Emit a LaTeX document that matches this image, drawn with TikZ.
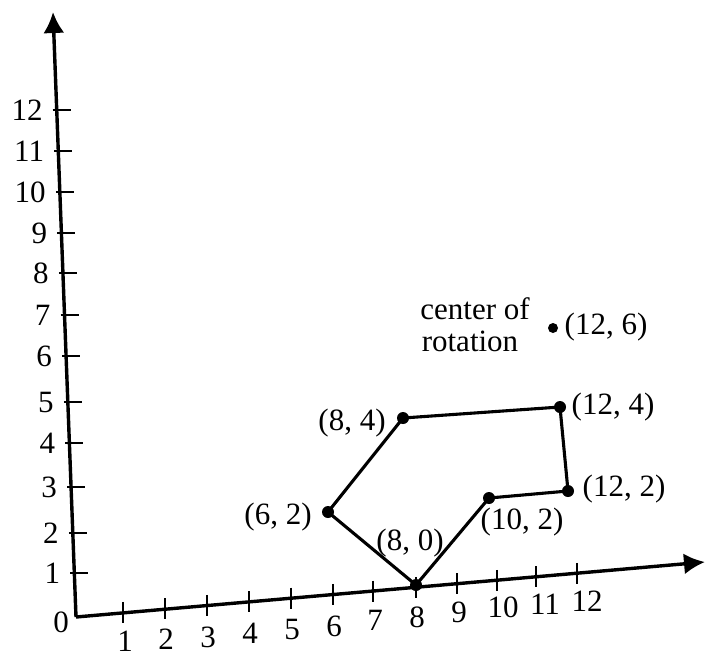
\documentclass[tikz,border=0pt]{standalone}
\usepackage{fontspec}
\setmainfont{Liberation Serif}
\usetikzlibrary{arrows.meta}
\tikzset{
  axisline/.style={line width=3.4pt,-{Latex[length=21pt,width=21pt]}},
  edge/.style={line width=3.1pt,line cap=round},
  tickmark/.style={line width=1.6pt},
  dot/.style={circle,fill=black,inner sep=0pt,minimum size=12pt},
  smalldot/.style={circle,fill=black,inner sep=0pt,minimum size=10pt},
  lab/.style={inner sep=0pt,font=\fontsize{31}{35}\selectfont},
}
\begin{document}
\begin{tikzpicture}[x=1pt,y=-1pt]
\useasboundingbox (0,0) rectangle (706,657);
% axes
\coordinate (O) at (76,617);
\coordinate (ytop) at (53,12);
\coordinate (xend) at (705,562);
\draw[axisline] (O) -- (ytop);
\draw[axisline] (O) -- (xend);
\node[lab] (zero) at (61,622) {0};
% y ticks
\foreach \v/\yy in {1/573,2/533,3/487,4/443,5/402,6/356,7/315,8/273,9/233,10/192,11/151,12/110}{
  \pgfmathsetmacro\ax{76-0.038*(617-\yy)}
  \draw[tickmark] (\ax-4,\yy) -- (\ax+14,\yy);
  \node[lab,anchor=east] (ylab\v) at (\ax-14,\yy) {\v};
}
% x ticks
\foreach \v/\xx/\lx/\ly in {1/123/125/641,2/165/166/639,3/207/208/637,4/249/250/633,5/291/292/629,6/333/334/626,7/373/375/620,8/416/417/617,9/457/459/612,10/497/503/607,11/536/545/604,12/577/587/601}{
  \pgfmathsetmacro\ay{617-0.0859*(\xx-76)}
  \draw[tickmark] (\xx,\ay-11) -- (\xx,\ay+10);
  \node[lab] (xlab\v) at (\lx,\ly) {\v};
}
% polygon vertices
\node[dot] (A) at (328,512) {};
\node[dot] (B) at (403,418) {};
\node[dot] (C) at (560,407) {};
\node[dot] (D) at (568,491) {};
\node[dot] (E) at (489,498) {};
\node[dot] (F) at (416,585) {};
\node[smalldot] (G) at (553,328) {};
% edges
\draw[edge] (A.center) -- (B.center);
\draw[edge] (B.center) -- (C.center);
\draw[edge] (C.center) -- (D.center);
\draw[edge] (D.center) -- (E.center);
\draw[edge] (E.center) -- (F.center);
\draw[edge] (F.center) -- (A.center);
% labels
\node[lab] (lA) at (278,517) {(6, 2)};
\node[lab] (lB) at (352,423) {(8, 4)};
\node[lab] (lC) at (613,407) {(12, 4)};
\node[lab] (lD) at (624,489) {(12, 2)};
\node[lab] (lE) at (522,522) {(10, 2)};
\node[lab] (lF) at (410,543) {(8, 0)};
\node[lab] (lG) at (606,327) {(12, 6)};
\node[lab] (c1) at (475,309) {center of};
\node[lab] (c2) at (470,341) {rotation};
\end{tikzpicture}
\end{document}
